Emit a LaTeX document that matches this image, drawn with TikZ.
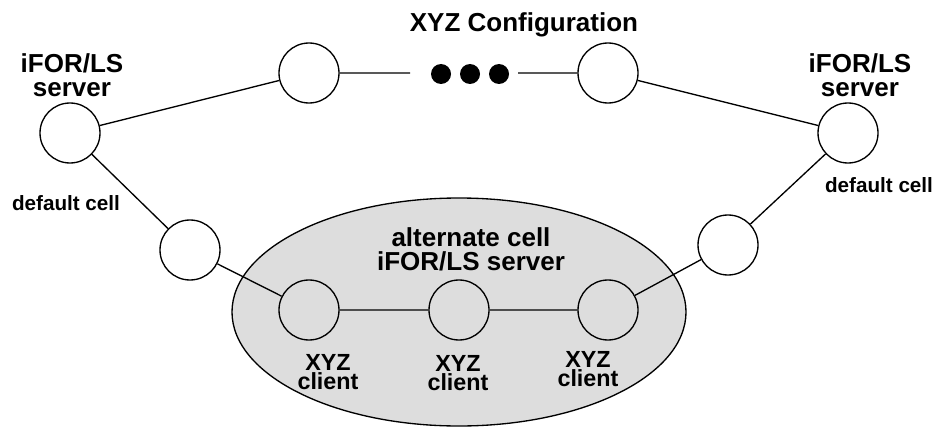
\documentclass[tikz,border=0pt]{standalone}
\usepackage{fontspec}
\setmainfont{Liberation Sans}
\definecolor{cellgray}{RGB}{221,221,221}

\begin{document}
\begin{tikzpicture}[x=0.75pt,y=-0.75pt]
        \tikzstyle{every node} = [font=\bfseries, align=center]
        \tikzstyle{host} = [circle, draw, line width=1pt, minimum size=45pt, inner sep=0pt]
        \tikzstyle{dot} = [circle, fill, minimum size=15pt, inner sep=0pt]
        \tikzstyle{big} = [font=\bfseries\fontsize{19.5}{18}\selectfont]
        \tikzstyle{small} = [font=\bfseries\fontsize{15.5}{16}\selectfont]
        \tikzstyle{cli} = [font=\bfseries\fontsize{17.5}{14.5}\selectfont]
        \useasboundingbox (0,0) rectangle (945,428);

        % alternate cell
        \draw[line width=1pt, fill=cellgray] (459,312) ellipse [x radius=227, y radius=114];

        \node[host] (s0) at (70,133) {};
        \node[host] (s1) at (848,133) {};
        \node[host] (t0) at (309,73) {};
        \node[host] (t1) at (608,73) {};
        \node[host] (d0) at (190,250) {};
        \node[host] (d1) at (728,245) {};
        \node[host] (c0) at (309,310) {};
        \node[host] (c1) at (459,310) {};
        \node[host] (c2) at (608,310) {};
        \node[dot] (p0) at (441,74) {};
        \node[dot] (p1) at (470,74) {};
        \node[dot] (p2) at (499,74) {};
        \coordinate (e0) at (410,73);
        \coordinate (e1) at (518,73);

        \node[big] (cfg) at (524,25) {XYZ Configuration};
        \node[big] (ls0) at (72,75) {iFOR/LS\\server};
        \node[big] (ls1) at (860,75) {iFOR/LS\\server};
        \node[small] (dc0) at (66,203) {default cell};
        \node[small] (dc1) at (879,185) {default cell};
        \node[big] (alt) at (471,249) {alternate cell\\iFOR/LS server};
        \node[cli] (x0) at (328,372) {XYZ\\client};
        \node[cli] (x1) at (458,373) {XYZ\\client};
        \node[cli] (x2) at (588,369) {XYZ\\client};

        \draw[line width=1pt] (e0) -- (t0) -- (s0) -- (d0) -- (c0) -- (c1) -- (c2) -- (d1) -- (s1) -- (t1) -- (e1);
\end{tikzpicture}
\end{document}
